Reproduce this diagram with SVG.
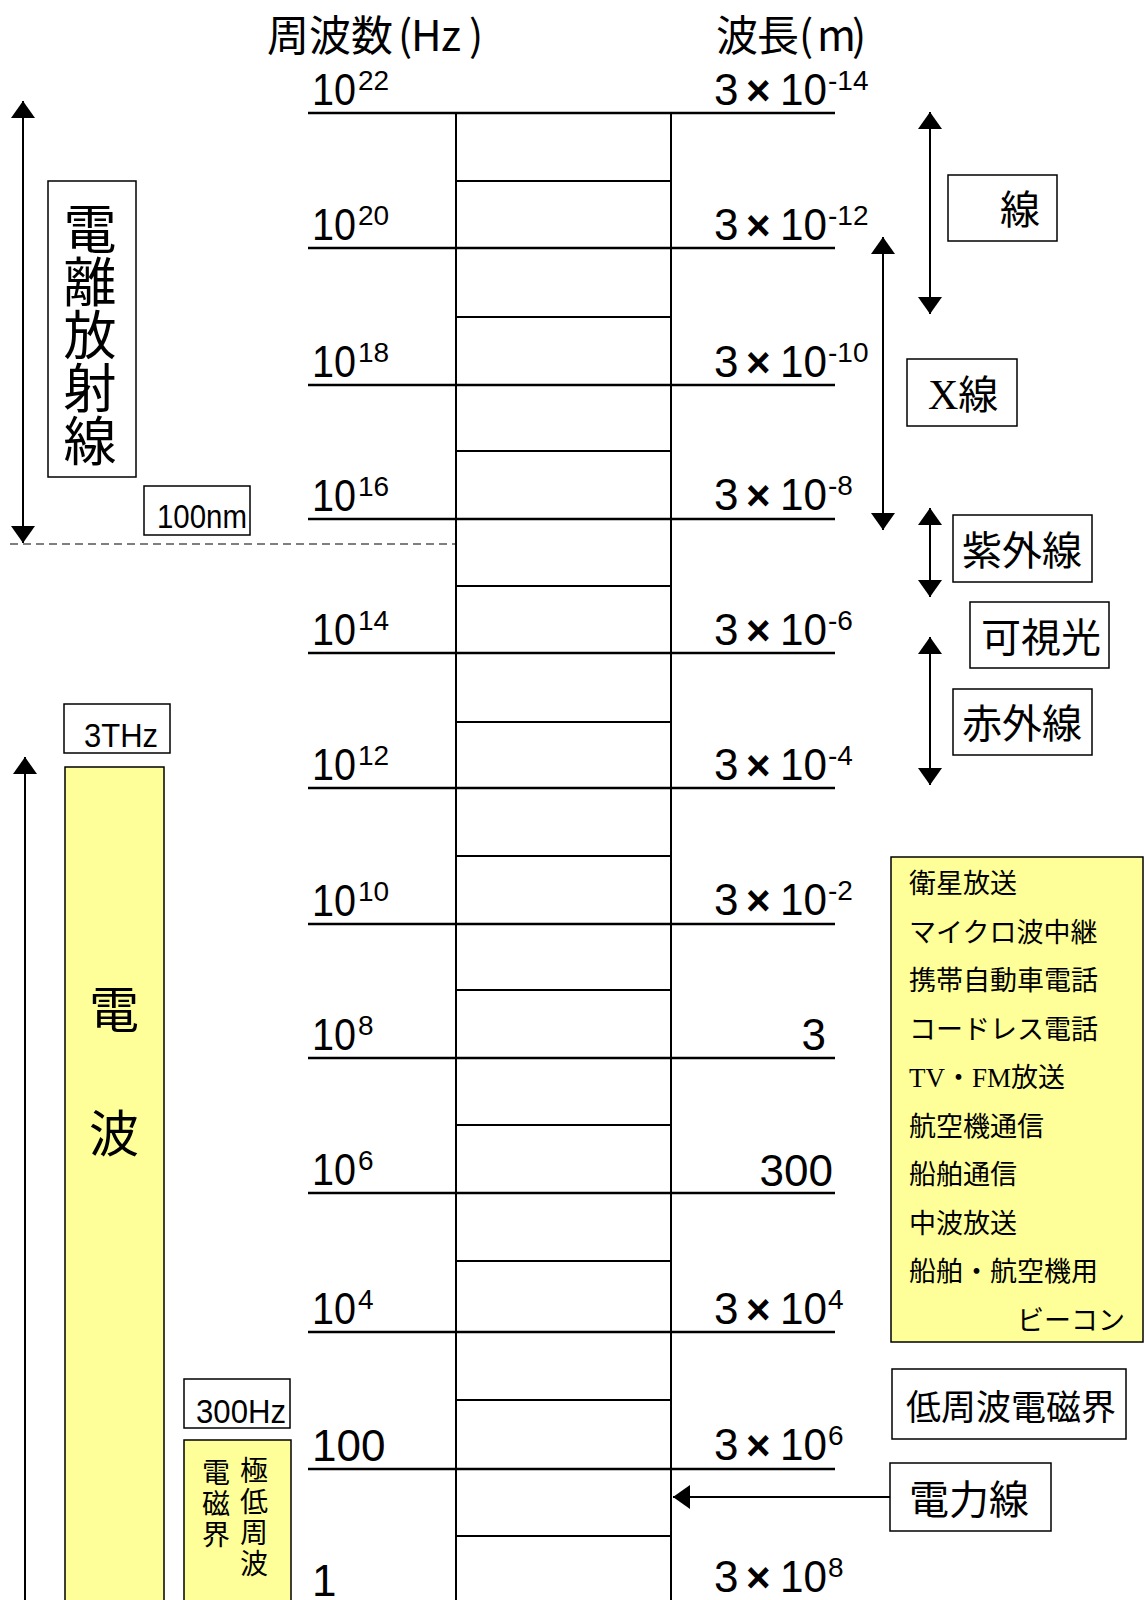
<svg xmlns="http://www.w3.org/2000/svg" width="1144" height="1600" viewBox="0 0 1144 1600">
<style>
.bg{fill:#fff}
.ln{stroke:#000;stroke-width:2.5}
.mid{stroke:#000;stroke-width:2}
.col{fill:none;stroke:#000;stroke-width:2}
.box{fill:#fff;stroke:#000;stroke-width:1.5}
.ybox{fill:#FFFF99;stroke:#000;stroke-width:1.5}
.num{font-family:"Liberation Sans",Arial,sans-serif;font-size:44px;fill:#000}
.sup{font-family:"Liberation Sans",Arial,sans-serif;font-size:28px;fill:#000}
.x{font-family:"Liberation Sans",Arial,sans-serif;font-size:42px;font-weight:bold;fill:#000}
.sm{font-family:"Liberation Sans",Arial,sans-serif;font-size:33px;fill:#000}
.jp{font-family:"Noto Sans CJK JP",sans-serif;fill:#000}
.serif{font-family:"Liberation Serif","Times New Roman",serif}
.arr{stroke:#000;stroke-width:2;fill:none}
</style>
<defs>
<marker id="ah" viewBox="0 0 17 24" refX="17" refY="12" markerWidth="17" markerHeight="24" markerUnits="userSpaceOnUse" orient="auto-start-reverse">
<path d="M0,0 L17,12 L0,24 Z" fill="#000"/>
</marker>
</defs>
<rect class="bg" x="0" y="0" width="1144" height="1600"/>

<g id="titles">
<text class="jp" font-size="42" x="267 309 351 398 411 441 469" y="51">周波数(Hz)</text>
<text class="jp" font-size="42" x="716 757 799 817 852" y="51">波長(m)</text>
</g>

<g id="scale">
<rect class="col" x="456" y="113" width="215" height="1520"/>
<line class="ln" x1="308" y1="113" x2="835" y2="113"/>
<line class="ln" x1="308" y1="248" x2="835" y2="248"/>
<line class="ln" x1="308" y1="385" x2="835" y2="385"/>
<line class="ln" x1="308" y1="519" x2="835" y2="519"/>
<line class="ln" x1="308" y1="653" x2="835" y2="653"/>
<line class="ln" x1="308" y1="788" x2="835" y2="788"/>
<line class="ln" x1="308" y1="924" x2="835" y2="924"/>
<line class="ln" x1="308" y1="1058" x2="835" y2="1058"/>
<line class="ln" x1="308" y1="1193" x2="835" y2="1193"/>
<line class="ln" x1="308" y1="1332" x2="835" y2="1332"/>
<line class="ln" x1="308" y1="1469" x2="835" y2="1469"/>
<line class="mid" x1="456" y1="181" x2="671" y2="181"/>
<line class="mid" x1="456" y1="317" x2="671" y2="317"/>
<line class="mid" x1="456" y1="451" x2="671" y2="451"/>
<line class="mid" x1="456" y1="586" x2="671" y2="586"/>
<line class="mid" x1="456" y1="722" x2="671" y2="722"/>
<line class="mid" x1="456" y1="856" x2="671" y2="856"/>
<line class="mid" x1="456" y1="990" x2="671" y2="990"/>
<line class="mid" x1="456" y1="1125" x2="671" y2="1125"/>
<line class="mid" x1="456" y1="1261" x2="671" y2="1261"/>
<line class="mid" x1="456" y1="1400" x2="671" y2="1400"/>
<line class="mid" x1="456" y1="1536" x2="671" y2="1536"/>
<line x1="10" y1="544" x2="456" y2="544" stroke="#000" stroke-width="1.2" stroke-dasharray="8 5"/>
</g>

<g id="freq-labels">
<text class="num" x="312" y="105" textLength="44" lengthAdjust="spacingAndGlyphs">10</text><text class="sup" x="358" y="90">22</text>
<text class="num" x="312" y="240" textLength="44" lengthAdjust="spacingAndGlyphs">10</text><text class="sup" x="358" y="225">20</text>
<text class="num" x="312" y="377" textLength="44" lengthAdjust="spacingAndGlyphs">10</text><text class="sup" x="358" y="362">18</text>
<text class="num" x="312" y="511" textLength="44" lengthAdjust="spacingAndGlyphs">10</text><text class="sup" x="358" y="496">16</text>
<text class="num" x="312" y="645" textLength="44" lengthAdjust="spacingAndGlyphs">10</text><text class="sup" x="358" y="630">14</text>
<text class="num" x="312" y="780" textLength="44" lengthAdjust="spacingAndGlyphs">10</text><text class="sup" x="358" y="765">12</text>
<text class="num" x="312" y="916" textLength="44" lengthAdjust="spacingAndGlyphs">10</text><text class="sup" x="358" y="901">10</text>
<text class="num" x="312" y="1050" textLength="44" lengthAdjust="spacingAndGlyphs">10</text><text class="sup" x="358" y="1035">8</text>
<text class="num" x="312" y="1185" textLength="44" lengthAdjust="spacingAndGlyphs">10</text><text class="sup" x="358" y="1170">6</text>
<text class="num" x="312" y="1324" textLength="44" lengthAdjust="spacingAndGlyphs">10</text><text class="sup" x="358" y="1309">4</text>
<text class="num" x="312" y="1461">100</text>
<text class="num" x="312" y="1596">1</text>
</g>

<g id="wave-labels">
<text class="num" x="714" y="105">3</text><text class="x" x="746" y="105">×</text><text class="num" x="780" y="105" textLength="47" lengthAdjust="spacingAndGlyphs">10</text><text class="sup" x="828" y="90">-14</text>
<text class="num" x="714" y="240">3</text><text class="x" x="746" y="240">×</text><text class="num" x="780" y="240" textLength="47" lengthAdjust="spacingAndGlyphs">10</text><text class="sup" x="828" y="225">-12</text>
<text class="num" x="714" y="377">3</text><text class="x" x="746" y="377">×</text><text class="num" x="780" y="377" textLength="47" lengthAdjust="spacingAndGlyphs">10</text><text class="sup" x="828" y="362">-10</text>
<text class="num" x="714" y="510">3</text><text class="x" x="746" y="510">×</text><text class="num" x="780" y="510" textLength="47" lengthAdjust="spacingAndGlyphs">10</text><text class="sup" x="828" y="495">-8</text>
<text class="num" x="714" y="645">3</text><text class="x" x="746" y="645">×</text><text class="num" x="780" y="645" textLength="47" lengthAdjust="spacingAndGlyphs">10</text><text class="sup" x="828" y="630">-6</text>
<text class="num" x="714" y="780">3</text><text class="x" x="746" y="780">×</text><text class="num" x="780" y="780" textLength="47" lengthAdjust="spacingAndGlyphs">10</text><text class="sup" x="828" y="765">-4</text>
<text class="num" x="714" y="915">3</text><text class="x" x="746" y="915">×</text><text class="num" x="780" y="915" textLength="47" lengthAdjust="spacingAndGlyphs">10</text><text class="sup" x="828" y="900">-2</text>
<text class="num" x="826" y="1050" text-anchor="end">3</text>
<text class="num" x="833" y="1186" text-anchor="end">300</text>
<text class="num" x="714" y="1324">3</text><text class="x" x="746" y="1324">×</text><text class="num" x="780" y="1324" textLength="47" lengthAdjust="spacingAndGlyphs">10</text><text class="sup" x="828" y="1309">4</text>
<text class="num" x="714" y="1460">3</text><text class="x" x="746" y="1460">×</text><text class="num" x="780" y="1460" textLength="47" lengthAdjust="spacingAndGlyphs">10</text><text class="sup" x="828" y="1445">6</text>
<text class="num" x="714" y="1592">3</text><text class="x" x="746" y="1592">×</text><text class="num" x="780" y="1592" textLength="47" lengthAdjust="spacingAndGlyphs">10</text><text class="sup" x="828" y="1577">8</text>
</g>

<g id="ionizing">
<rect class="box" x="48" y="181" width="88" height="296"/>
<text class="jp" font-size="53" text-anchor="middle" x="90 90 90 90 90" y="249 302 355 408 461">電離放射線</text>
</g>
<g id="label-100nm">
<rect class="box" x="144" y="486" width="106" height="49"/>
<text class="sm" x="157" y="528" textLength="90" lengthAdjust="spacingAndGlyphs">100nm</text>
</g>
<g id="label-3THz">
<rect class="box" x="64" y="704" width="106" height="49"/>
<text class="sm" x="84" y="747" textLength="74" lengthAdjust="spacingAndGlyphs">3THz</text>
</g>
<g id="radio">
<rect class="ybox" x="65" y="767" width="99" height="850"/>
<text class="jp" font-size="50" text-anchor="middle" x="114 114" y="1028 1152">電波</text>
</g>
<g id="label-300Hz">
<rect class="box" x="184" y="1379" width="106" height="49"/>
<text class="sm" x="196" y="1423" textLength="90" lengthAdjust="spacingAndGlyphs">300Hz</text>
</g>
<g id="elf">
<rect class="ybox" x="184" y="1440" width="107" height="180"/>
<text class="jp" font-size="28" text-anchor="middle" x="254 254 254 254" y="1481 1512 1543 1574">極低周波</text>
<text class="jp" font-size="28" text-anchor="middle" x="216 216 216" y="1483 1514 1545">電磁界</text>
</g>

<g id="gamma">
<rect class="box" x="948" y="175" width="109" height="66"/>
<text class="jp" font-size="40" x="1000" y="224">線</text>
</g>
<g id="xray">
<rect class="box" x="907" y="359" width="110" height="67"/>
<text class="jp" font-size="40" x="928" y="409"><tspan class="serif" font-size="42">X</tspan>線</text>
</g>
<g id="uv">
<rect class="box" x="953" y="515" width="139" height="67"/>
<text class="jp" font-size="40" x="962" y="565">紫外線</text>
</g>
<g id="visible">
<rect class="box" x="970" y="602" width="139" height="66"/>
<text class="jp" font-size="40" x="981" y="652">可視光</text>
</g>
<g id="ir">
<rect class="box" x="953" y="689" width="139" height="66"/>
<text class="jp" font-size="40" x="962" y="738">赤外線</text>
</g>
<g id="uses">
<rect class="ybox" x="891" y="857" width="252" height="485"/>
<g class="jp" font-size="27">
<text x="909" y="893">衛星放送</text>
<text x="909" y="941.5">マイクロ波中継</text>
<text x="909" y="990">携帯自動車電話</text>
<text x="909" y="1038.5">コードレス電話</text>
<text x="909" y="1087"><tspan class="serif">TV</tspan>・<tspan class="serif">FM</tspan>放送</text>
<text x="909" y="1135.5">航空機通信</text>
<text x="909" y="1184">船舶通信</text>
<text x="909" y="1232.5">中波放送</text>
<text x="909" y="1281">船舶・航空機用</text>
<text x="1017" y="1329.5">ビーコン</text>
</g>
</g>
<g id="lf-emf">
<rect class="box" x="892" y="1369" width="234" height="70"/>
<text class="jp" font-size="35" x="906" y="1420">低周波電磁界</text>
</g>
<g id="powerline">
<rect class="box" x="890" y="1463" width="161" height="68"/>
<text class="jp" font-size="40" x="909" y="1514">電力線</text>
</g>

<g id="connectors">
<line class="arr" x1="23" y1="101" x2="23" y2="543" marker-start="url(#ah)" marker-end="url(#ah)"/>
<line class="arr" x1="25" y1="757" x2="25" y2="1610" marker-start="url(#ah)"/>
<line class="arr" x1="930" y1="112" x2="930" y2="314" marker-start="url(#ah)" marker-end="url(#ah)"/>
<line class="arr" x1="883" y1="237" x2="883" y2="530" marker-start="url(#ah)" marker-end="url(#ah)"/>
<line class="arr" x1="930" y1="508" x2="930" y2="597" marker-start="url(#ah)" marker-end="url(#ah)"/>
<line class="arr" x1="930" y1="637" x2="930" y2="785" marker-start="url(#ah)" marker-end="url(#ah)"/>
<line class="arr" stroke-width="1.5" x1="890" y1="1497" x2="673" y2="1497" marker-end="url(#ah)"/>
</g>
</svg>
